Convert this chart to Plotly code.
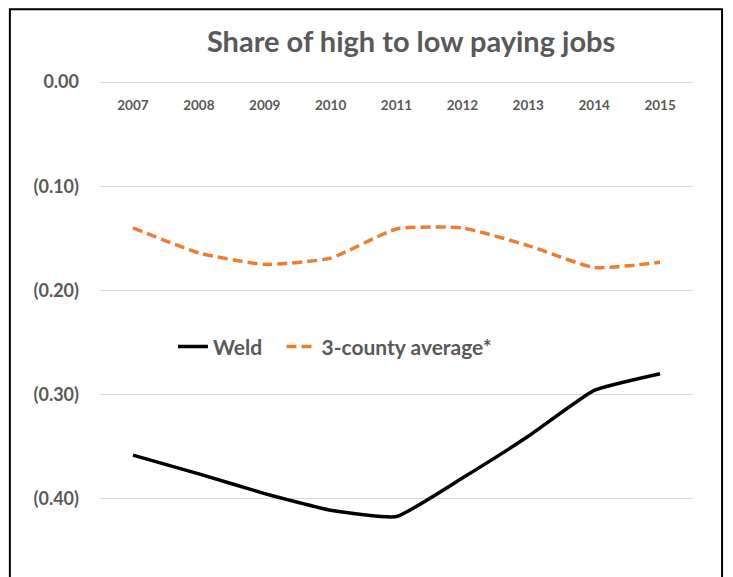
import plotly.graph_objects as go

years = ["2007", "2008", "2009", "2010", "2011", "2012", "2013", "2014", "2015"]
weld = [-0.358, -0.376, -0.395, -0.411, -0.417, -0.380, -0.340, -0.296, -0.280]
county_avg = [-0.140, -0.164, -0.175, -0.169, -0.141, -0.140, -0.157, -0.178, -0.173]
y_tickvals = [0.0, -0.1, -0.2, -0.3, -0.4]
y_ticktext = ["0.00", "(0.10)", "(0.20)", "(0.30)", "(0.40)"]

FONT = "Lato"
GRAY = "#595959"

fig = go.Figure()
fig.add_trace(go.Scatter(
    x=years, y=weld, name="Weld", mode="lines", legend="legend",
    line=dict(color="black", width=3.5, shape="spline", smoothing=0.4),
))
fig.add_trace(go.Scatter(
    x=years, y=county_avg, name="3-county average*", mode="lines", legend="legend2",
    line=dict(color="#ED7D31", width=3.5, dash="10px,5px", shape="spline", smoothing=0.5),
))

legend_common = dict(orientation="h", y=0.465, yanchor="middle", xanchor="left",
                     font=dict(family=FONT, size=21, color=GRAY, weight="bold"),
                     bgcolor="rgba(0,0,0,0)", itemwidth=30)

fig.update_layout(
    width=725, height=569,
    margin=dict(l=92, r=40, t=74, b=0),
    paper_bgcolor="white", plot_bgcolor="white",
    title=dict(text="<b>Share of high to low paying jobs</b>", x=0.556, xanchor="center",
               y=0.94, yanchor="middle",
               font=dict(family=FONT, size=29, color=GRAY)),
    font=dict(family=FONT, color=GRAY),
    showlegend=True,
    legend=dict(x=0.123, **legend_common),
    legend2=dict(x=0.306, **legend_common),
    xaxis=dict(
        type="category", range=[-0.5, 8.5], anchor="free", position=1.0, side="bottom",
        showgrid=False, showline=False, zeroline=False,
        ticks="outside", ticklen=0, ticklabelstandoff=11,
        tickfont=dict(family=FONT, size=13.5, color=GRAY, weight="bold"),
    ),
    yaxis=dict(
        range=[-0.475, 0.0], tickvals=y_tickvals, ticktext=y_ticktext,
        showgrid=True, gridcolor="#D9D9D9", gridwidth=1,
        zeroline=True, zerolinecolor="#D9D9D9", zerolinewidth=1,
        showline=False, ticks="", ticklabelstandoff=20,
        tickfont=dict(family=FONT, size=18, color=GRAY, weight="bold"),
    ),
)

fig.add_shape(type="rect", xref="paper", yref="paper",
              x0=-0.152, x1=1.049, y0=-0.2, y1=1.147,
              line=dict(color="black", width=2), fillcolor="rgba(0,0,0,0)", layer="below")

fig.write_html("out.html")
